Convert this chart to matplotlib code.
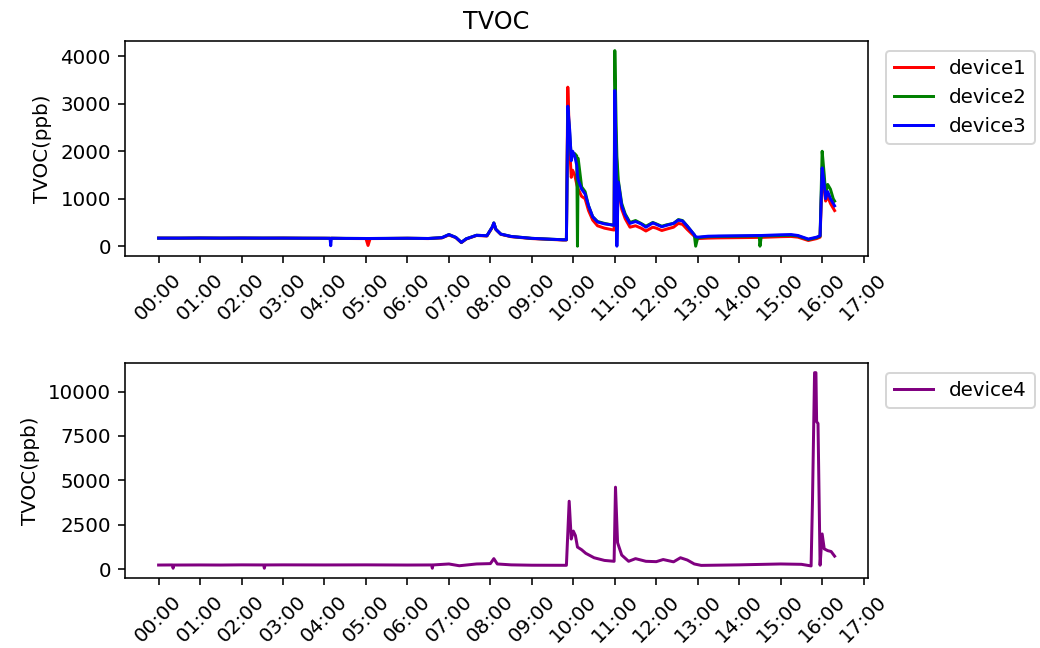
import pandas as pd
import matplotlib
matplotlib.use("Agg")
import matplotlib.pyplot as plt
import matplotlib.dates as mdates

# readings for devices 1-3 (shared time stamps)
times_a = ["00:00", "00:30", "01:00", "01:30", "02:00", "02:30", "03:00", "03:30",
           "04:00", "04:08", "04:09", "04:10", "04:30", "05:00", "05:03", "05:06",
           "05:30", "06:00", "06:30", "06:50", "07:00", "07:10", "07:18", "07:25",
           "07:40", "07:55", "08:03", "08:05", "08:08", "08:15", "08:30", "08:45",
           "09:00", "09:15", "09:30", "09:45", "09:50", "09:52", "09:55", "09:57",
           "09:59", "10:02", "10:05", "10:06", "10:07", "10:12", "10:17", "10:22",
           "10:28", "10:35", "10:45", "10:55", "10:59", "11:00", "11:02", "11:03",
           "11:05", "11:10", "11:15", "11:22", "11:30", "11:38", "11:45", "11:55",
           "12:00", "12:08", "12:15", "12:25", "12:32", "12:38", "12:45", "12:55",
           "12:57", "13:00", "13:15", "13:30", "14:00", "14:29", "14:30", "14:32",
           "15:00", "15:15", "15:25", "15:40", "15:52", "15:57", "16:00", "16:03",
           "16:05", "16:08", "16:12", "16:16", "16:18"]
device1 = [170, 168, 172, 169, 171, 168, 170, 167,
           166, 165, 165, 166, 162, 160, 15, 160,
           162, 166, 160, 175, 235, 180, 75, 150,
           225, 215, 400, 480, 350, 250, 200, 180,
           160, 150, 140, 130, 130, 3350, 2000, 1450,
           1600, 1500, 1300, 1250, 1200, 1050, 1000, 750,
           550, 430, 380, 350, 340, 3250, 2000, 1700,
           1250, 780, 580, 400, 430, 380, 320, 400,
           380, 330, 360, 400, 480, 460, 350, 210,
           190, 160, 170, 175, 180, 185, 185, 185,
           200, 205, 190, 120, 160, 190, 1500, 1200,
           950, 1050, 900, 800, 750]
device2 = [170, 170, 172, 170, 171, 170, 170, 168,
           167, 166, 166, 167, 164, 162, 162, 162,
           164, 167, 162, 180, 245, 185, 80, 155,
           230, 220, 410, 490, 355, 255, 205, 185,
           165, 155, 145, 135, 135, 2900, 2300, 1900,
           1950, 1950, 1900, 0, 1850, 1250, 1150, 850,
           620, 520, 480, 450, 440, 4120, 2500, 1900,
           1400, 900, 680, 500, 540, 480, 420, 500,
           470, 420, 450, 480, 560, 540, 420, 240,
           0, 180, 200, 205, 210, 215, 0, 215,
           225, 230, 215, 140, 180, 210, 2000, 1500,
           1100, 1300, 1200, 1000, 950]
device3 = [170, 170, 172, 170, 171, 170, 170, 168,
           167, 166, 10, 167, 164, 162, 162, 162,
           164, 167, 162, 180, 245, 185, 80, 155,
           230, 220, 410, 490, 355, 255, 205, 185,
           165, 155, 145, 135, 135, 2950, 2400, 1800,
           2000, 1900, 1700, 1500, 1400, 1200, 1100, 850,
           620, 510, 470, 450, 440, 3280, 1800, 0,
           1350, 850, 650, 480, 520, 470, 400, 490,
           460, 410, 440, 480, 550, 530, 420, 240,
           200, 190, 210, 215, 220, 225, 225, 225,
           240, 245, 225, 150, 190, 220, 1650, 1300,
           1000, 1150, 1000, 900, 850]

# readings for device4
times_b = ["00:00", "00:20", "00:21", "00:22", "01:00", "01:30", "02:00", "02:32",
           "02:33", "02:34", "03:00", "04:00", "05:00", "06:00", "06:35", "06:36",
           "06:37", "07:00", "07:15", "07:40", "08:00", "08:05", "08:10", "08:30",
           "09:00", "09:50", "09:54", "09:57", "10:00", "10:03", "10:06", "10:12",
           "10:18", "10:30", "10:45", "10:59", "11:01", "11:04", "11:10", "11:20",
           "11:30", "11:45", "12:00", "12:10", "12:25", "12:35", "12:45", "12:55",
           "13:05", "14:00", "15:00", "15:30", "15:44", "15:46", "15:49", "15:51",
           "15:52", "15:54", "15:57", "16:00", "16:03", "16:08", "16:13", "16:18"]
device4 = [240, 245, 60, 240, 245, 240, 250, 245,
           60, 245, 250, 245, 250, 240, 245, 60,
           245, 300, 200, 300, 320, 600, 300, 250,
           230, 225, 3830, 1700, 2150, 1900, 1250, 1100,
           900, 650, 500, 450, 4620, 1500, 800, 450,
           600, 450, 430, 550, 420, 650, 520, 300,
           220, 250, 300, 280, 190, 3860, 11060, 11060,
           8300, 8200, 230, 1990, 1150, 1050, 1000, 740]

ta = pd.to_datetime(["2023-01-01 " + t for t in times_a])
tb = pd.to_datetime(["2023-01-01 " + t for t in times_b])

fig = plt.figure(figsize=(1040 / 143, 648 / 143), dpi=143)
ax1 = fig.add_axes([0.12, 0.605, 0.715, 0.332])
ax2 = fig.add_axes([0.12, 0.108, 0.715, 0.332])

ax1.plot(ta, device1, color="red", label="device1")
ax1.plot(ta, device2, color="green", label="device2")
ax1.plot(ta, device3, color="blue", label="device3")
ax1.set_title("TVOC")
ax1.set_ylabel("TVOC(ppb)")
ax1.legend(loc="upper left", bbox_to_anchor=(1.01, 1))

ax2.plot(tb, device4, color="purple", label="device4")
ax2.set_ylabel("TVOC(ppb)")
ax2.legend(loc="upper left", bbox_to_anchor=(1.01, 1))

for ax in (ax1, ax2):
    ax.xaxis.set_major_locator(mdates.HourLocator())
    ax.xaxis.set_major_formatter(mdates.DateFormatter("%H:%M"))
    plt.setp(ax.get_xticklabels(), rotation=45)

fig.savefig("out.png")
